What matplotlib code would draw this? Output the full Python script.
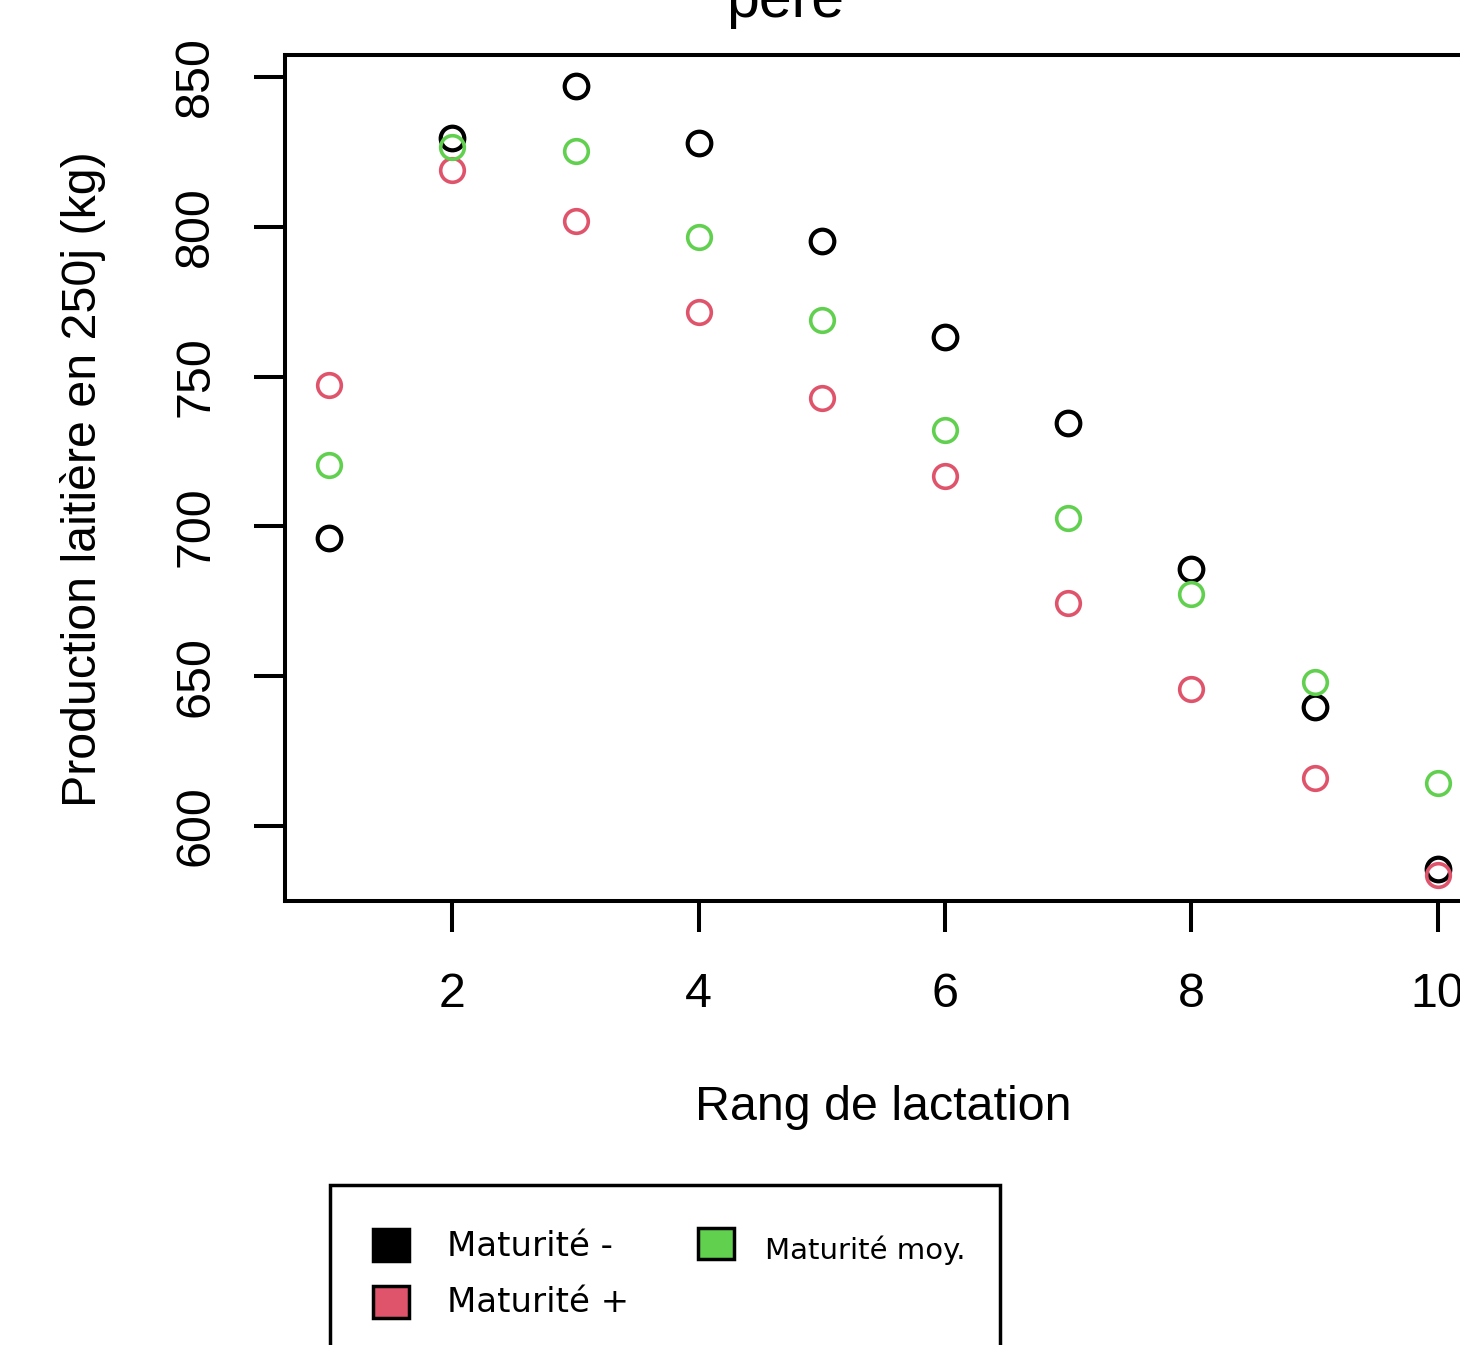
import matplotlib
matplotlib.use("Agg")
import matplotlib.pyplot as plt
from matplotlib.patches import Rectangle

# ---- data ----
rang = [1, 2, 3, 4, 5, 6, 7, 8, 9, 10]
maturite_moins = [696.1, 829.6, 847.0, 828.0, 795.3, 763.2, 734.5, 685.8, 639.7, 585.6]
maturite_plus = [747.2, 819.0, 802.0, 771.6, 742.9, 716.8, 674.4, 645.7, 616.0, 583.6]
maturite_moy = [720.5, 826.6, 825.3, 796.6, 768.9, 732.2, 702.8, 677.4, 648.1, 614.4]
xticks = [2, 4, 6, 8, 10]
yticks = [600, 650, 700, 750, 800, 850]
title = "père"
xlabel = "Rang de lactation"
ylabel = "Production laitière en 250j (kg)"
legend_labels = ["Maturité -", "Maturité +", "Maturité moy."]

C_BLACK = "#000000"
C_RED = "#DF536B"
C_GREEN = "#61D04F"

W, H = 1460, 1345
plt.rcParams['font.family'] = ['Liberation Sans', 'DejaVu Sans']

fig = plt.figure(figsize=(W / 100, H / 100), dpi=100)

def fx(px):
    return px / W

def fy(py):
    return 1 - py / H

ax_left, ax_right, ax_top, ax_bottom = 285, 1482, 55, 901
ax = fig.add_axes([fx(ax_left), fy(ax_bottom), (ax_right - ax_left) / W, (ax_bottom - ax_top) / H])

ms = 17
ax.plot(rang, maturite_moins, linestyle='none', marker='o', ms=ms, mfc='none', mec=C_BLACK, mew=3.0, zorder=3)
ax.plot(rang, maturite_plus, linestyle='none', marker='o', ms=ms, mfc='none', mec=C_RED, mew=2.6, zorder=4)
ax.plot(rang, maturite_moy, linestyle='none', marker='o', ms=ms, mfc='none', mec=C_GREEN, mew=2.6, zorder=4)

ax.set_xlim(0.64, 10.36)
ax.set_ylim(575.0, 857.3)
ax.set_xticks(xticks)
ax.set_yticks(yticks)
ax.set_xticklabels([str(v) for v in xticks], fontsize=34.8)
ax.set_yticklabels([str(v) for v in yticks], fontsize=34.8, rotation=90, va='center')
ax.tick_params(axis='x', length=22, width=2.9, pad=29, direction='out')
ax.tick_params(axis='y', length=22, width=2.9, pad=26, direction='out')
for s in ax.spines.values():
    s.set_linewidth(2.9)

ax.set_xlabel(xlabel, fontsize=34.8)
ax.xaxis.set_label_coords((883 - ax_left) / (ax_right - ax_left), (ax_bottom - 1108) / (ax_bottom - ax_top))
ax.xaxis.label.set_va('center')
ax.set_ylabel(ylabel, fontsize=34.8)
ax.yaxis.set_label_coords((83 - ax_left) / (ax_right - ax_left), (ax_bottom - 479) / (ax_bottom - ax_top))
ax.yaxis.label.set_va('center')

fig.text(fx(785), fy(17), title, ha='center', va='baseline', fontsize=42.5)

# ---- legend (drawn manually) ----
fig.patches.append(Rectangle((fx(330), fy(1420)), (1000 - 330) / W, (1420 - 1185) / H,
                             transform=fig.transFigure, fill=False, lw=2.5, ec='black'))
def square(x0, y0, x1, y1, color):
    fig.patches.append(Rectangle((fx(x0), fy(y1)), (x1 - x0) / W, (y1 - y0) / H,
                                 transform=fig.transFigure, fc=color, ec='black', lw=2.5))
square(373, 1229, 409, 1261, C_BLACK)
square(373, 1286, 409, 1318, C_RED)
square(698, 1228, 734, 1259, C_GREEN)
fig.text(fx(447), fy(1247), legend_labels[0], family='DejaVu Sans', fontsize=24.5, va='center', ha='left')
fig.text(fx(447), fy(1302), legend_labels[1], family='DejaVu Sans', fontsize=24.5, va='center', ha='left')
fig.text(fx(765), fy(1250), legend_labels[2], family='DejaVu Sans', fontsize=21, va='center', ha='left')

fig.savefig("out.png", dpi=100)
